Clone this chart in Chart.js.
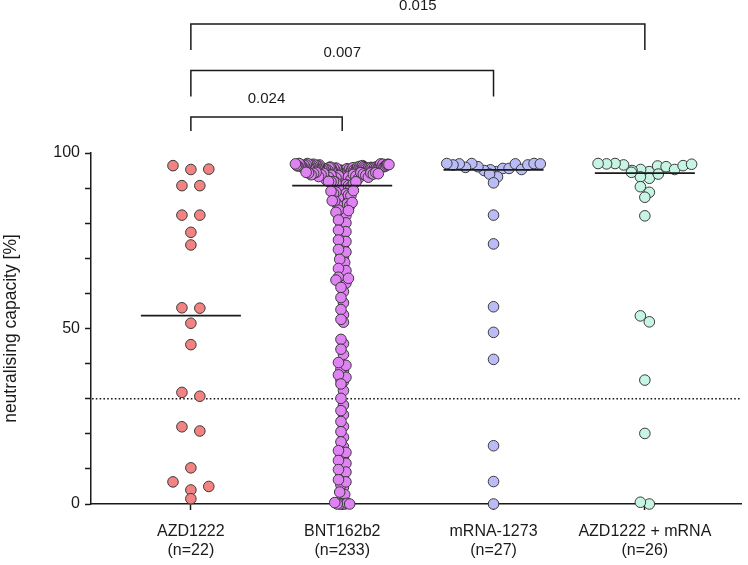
<!DOCTYPE html>
<html>
<head>
<meta charset="utf-8">
<script src="https://cdn.jsdelivr.net/npm/chart.js@4.4.0/dist/chart.umd.min.js"></script>
<style>
html,body{margin:0;padding:0;background:#fff;}
#wrap{width:748px;height:565px;}
</style>
</head>
<body>
<div id="wrap"><canvas id="chart" width="748" height="565"></canvas></div>
<script>
// groups on the x axis
const groups = ["AZD1222", "BNT162b2", "mRNA-1273", "AZD1222 + mRNA"];
const groupN = ["(n=22)", "(n=233)", "(n=27)", "(n=26)"];

// neutralising capacity [%] per subject
const azd = [95.4, 96.4, 95.3, 90.7, 90.7, 82.3, 82.3, 77.4, 73.8, 55.8, 55.9,
  51.5, 45.4, 31.8, 30.7, 22.0, 20.8, 10.3, 6.3, 5.0, 4.0, 1.5];

const bnt = [
  97.0, 96.7, 96.9, 96.5, 96.8, 96.3, 96.6, 97.0, 96.4, 96.7,
  96.2, 96.8, 96.5, 96.1, 96.6, 96.3, 96.9, 96.0, 96.4, 96.7,
  95.9, 96.2, 96.5, 95.8, 96.1, 96.6, 95.7, 96.3, 96.0, 96.8,
  95.6, 95.9, 96.2, 95.5, 96.1, 96.4, 95.8, 95.4, 96.0, 96.5,
  95.3, 95.7, 96.1, 95.6, 95.2, 95.9, 96.3, 95.5, 95.1, 95.8,
  95.4, 95.0, 95.7, 96.0, 94.9, 95.3, 95.6, 94.8, 95.2, 95.9,
  94.7, 95.5, 95.1, 94.6, 95.4, 95.0, 94.5, 95.8, 94.9, 95.2,
  94.4, 94.8, 95.6, 94.3, 94.7, 95.1, 94.2, 95.7, 94.6, 94.1,
  95.0, 94.0, 94.5, 95.3, 93.9, 94.4, 93.8, 94.9, 93.7, 94.2,
  93.6, 94.8, 93.5, 94.0, 93.3, 94.3, 93.1, 93.8, 92.9, 93.4,
  92.7, 93.1, 92.4, 93.2, 92.1, 92.6, 91.8, 92.2, 92.2, 91.8,
  92.4, 91.5, 91.9, 91.2, 91.9, 91.0,
  90.7, 90.4, 90.2, 89.8, 89.7, 89.3, 89.1, 88.9, 88.5, 88.4,
  88.0, 87.8, 87.3, 87.2, 86.9, 86.4, 86.3, 85.9, 85.5, 85.4,
  85.0, 84.6, 84.5, 84.1, 83.7, 83.6, 83.1, 82.5, 82.2, 81.4,
  80.9, 80.1, 79.5, 78.8, 78.0, 77.6, 76.7, 76.1, 75.2, 74.8,
  73.9, 73.2, 72.5, 71.8, 71.0, 70.3, 69.7, 68.8, 68.2, 67.1,
  66.5, 65.9, 65.2, 64.6, 64.3, 63.8, 63.5, 62.9, 62.4, 61.7,
  60.5, 58.8, 57.3, 55.4, 53.9, 52.6, 51.8, 46.9, 45.7, 44.1,
  42.6, 40.3, 39.5, 38.4, 37.9, 36.8, 36.1, 35.3, 34.9, 34.2,
  32.3, 30.1, 28.2, 26.6, 25.4, 23.5, 22.1, 20.6, 19.0, 17.7,
  16.3, 15.2, 14.7, 13.6, 13.1, 12.4, 11.6, 11.0, 10.3, 9.8,
  9.1, 8.2, 7.7, 6.9, 6.3, 5.4, 4.8, 3.4, 2.7, 1.5,
  0, 0, 0, 0, 0.4, 0.2, 0
];

const mrna = [96.6, 97.0, 94.7, 95.9, 97.0, 95.3, 96.9, 96.6, 94.0, 91.5,
  96.1, 93.2, 95.6, 96.9, 96.9, 95.0, 95.2, 97.0, 95.6,
  82.3, 74.1, 56.2, 48.9, 41.2, 16.6, 6.4, 0];

const azdMrna = [96.3, 96.8, 95.3, 96.9, 97.0, 94.0, 94.5, 94.7, 96.6, 92.8,
  96.1, 93.2, 95.0, 97.0, 96.4, 95.3, 90.4, 88.8, 87.4, 82.1,
  53.6, 51.9, 35.3, 20.1, 0.5, 0];

const yTicks = [0, 10, 20, 30, 40, 50, 60, 70, 80, 90, 100];
const yLabels = [0, 50, 100];
const threshold = 30;

// significance brackets: from group, to group, p value
const pFrom = [0, 0, 0];
const pTo = [1, 2, 3];
const pValues = ["0.024", "0.007", "0.015"];

const allValues = [azd, bnt, mrna, azdMrna];
const fills = ["#f38282", "#df82f2", "#b9bcf6", "#c6f5e3"];
const spread = [18, 2.5, 8, 9];

const FONT = "'Liberation Sans', Arial, Helvetica, sans-serif";
const INK = "#1a1a1a";

function median(arr){
  const s = arr.slice().sort((a, b) => a - b);
  const m = Math.floor(s.length / 2);
  return s.length % 2 ? s[m] : (s[m - 1] + s[m]) / 2;
}

// prism-like scatter: points close in y go in one row, centred on the group
function swarm(values, cat, chart, spacing){
  const xs = chart.scales.x, ys = chart.scales.y;
  const pxPerX = xs.getPixelForValue(1) - xs.getPixelForValue(0);
  const order = values.map((v, i) => i).sort((a, b) => values[b] - values[a]);
  const rows = [];
  let cur = null;
  order.forEach(i => {
    const py = ys.getPixelForValue(values[i]);
    if (cur && py - cur.start <= 8.5) cur.items.push(i);
    else { cur = {start: py, items: [i]}; rows.push(cur); }
  });
  const pts = [];
  rows.forEach(r => {
    const n = r.items.length;
    const s = n > 1 ? Math.min(spacing, 94 / (n - 1)) : 0;
    const slots = [];
    for (let k = 0; k < n; k++) slots.push((k - (n - 1) / 2) * s);
    slots.sort((a, b) => Math.abs(a) - Math.abs(b) || b - a);
    // lower values lean to the middle, big rows get mixed up a little
    const items = r.items.slice().sort((a, b) => values[a] - values[b])
      .map((i, k) => ({i, key: n >= 5 ? 0.55 * k / n + 0.45 * ((k * 0.618034) % 1) : k}))
      .sort((a, b) => a.key - b.key);
    items.forEach((it, k) => pts.push({x: cat + slots[k] / pxPerX, y: values[it.i]}));
  });
  return pts;
}

const extras = {
  id: "extras",
  beforeDatasetsDraw(chart){
    const {ctx, chartArea, scales} = chart;
    const y = scales.y.getPixelForValue(threshold);
    ctx.save();
    ctx.strokeStyle = INK;
    ctx.lineWidth = 1.6;
    ctx.setLineDash([1.6, 2.2]);
    ctx.beginPath();
    ctx.moveTo(chartArea.left + 1, y);
    ctx.lineTo(chartArea.right, y);
    ctx.stroke();
    ctx.restore();
  },
  afterDatasetsDraw(chart){
    const {ctx, scales} = chart;
    ctx.save();
    ctx.strokeStyle = INK;
    ctx.lineWidth = 1.8;
    allValues.forEach((vals, i) => {
      const y = scales.y.getPixelForValue(median(vals));
      const xc = scales.x.getPixelForValue(i);
      ctx.beginPath();
      ctx.moveTo(xc - 50, y);
      ctx.lineTo(xc + 50, y);
      ctx.stroke();
    });
    ctx.restore();
  },
  afterDraw(chart){
    const {ctx, chartArea, scales} = chart;
    ctx.save();
    ctx.strokeStyle = INK;
    ctx.fillStyle = INK;
    ctx.lineWidth = 1.5;
    ctx.font = "15px " + FONT;
    ctx.textAlign = "center";
    ctx.textBaseline = "middle";
    pValues.forEach((p, i) => {
      const x1 = scales.x.getPixelForValue(pFrom[i]);
      const x2 = scales.x.getPixelForValue(pTo[i]);
      const yb = chartArea.top - 36 - i * 46.5;
      const leg = i === 0 ? 14 : 26;
      ctx.beginPath();
      ctx.moveTo(x1, yb + leg);
      ctx.lineTo(x1, yb);
      ctx.lineTo(x2, yb);
      ctx.lineTo(x2, yb + leg);
      ctx.stroke();
      ctx.fillText(p, (x1 + x2) / 2, yb - 18);
    });
    ctx.restore();
  }
};

const chart = new Chart(document.getElementById("chart"), {
  type: "scatter",
  data: {
    datasets: allValues.map((vals, i) => ({
      label: groups[i],
      data: [],
      backgroundColor: fills[i],
      borderColor: "#3a3a3a",
      borderWidth: 1,
      pointRadius: 5.3,
      clip: false
    }))
  },
  options: {
    responsive: false,
    animation: false,
    devicePixelRatio: 1,
    layout: {padding: {top: 153, right: 3, bottom: 0, left: 0}},
    plugins: {legend: {display: false}, tooltip: {enabled: false}},
    scales: {
      x: {
        type: "linear",
        min: -0.66,
        max: 3.64,
        afterBuildTicks: s => { s.ticks = [0, 1, 2, 3].map(v => ({value: v})); },
        afterFit: s => { s.height = 61; },
        grid: {drawOnChartArea: false, drawTicks: true, tickLength: 6, tickColor: INK, tickWidth: 1.5},
        border: {display: true, color: INK, width: 1.5},
        ticks: {
          color: INK,
          padding: 12,
          maxRotation: 0,
          autoSkip: false,
          font: {family: FONT, size: 16, lineHeight: 1.2},
          callback: v => [groups[v], groupN[v]]
        }
      },
      y: {
        min: 0,
        max: 100,
        afterBuildTicks: s => { s.ticks = yTicks.map(v => ({value: v})); },
        afterFit: s => { s.width = 91; },
        grid: {drawOnChartArea: false, drawTicks: true, tickLength: 6, tickColor: INK, tickWidth: 1.5},
        border: {display: true, color: INK, width: 1.5},
        ticks: {
          color: INK,
          padding: 5,
          font: {family: FONT, size: 16},
          callback: v => yLabels.includes(v) ? String(v) : ""
        },
        title: {
          display: true,
          text: "neutralising capacity [%]",
          color: INK,
          padding: {top: 1, bottom: 0},
          font: {family: FONT, size: 17.5}
        }
      }
    }
  },
  plugins: [extras]
});

chart.data.datasets.forEach((ds, i) => {
  ds.data = swarm(allValues[i], i, chart, spread[i]);
});
chart.update("none");
</script>
</body>
</html>
